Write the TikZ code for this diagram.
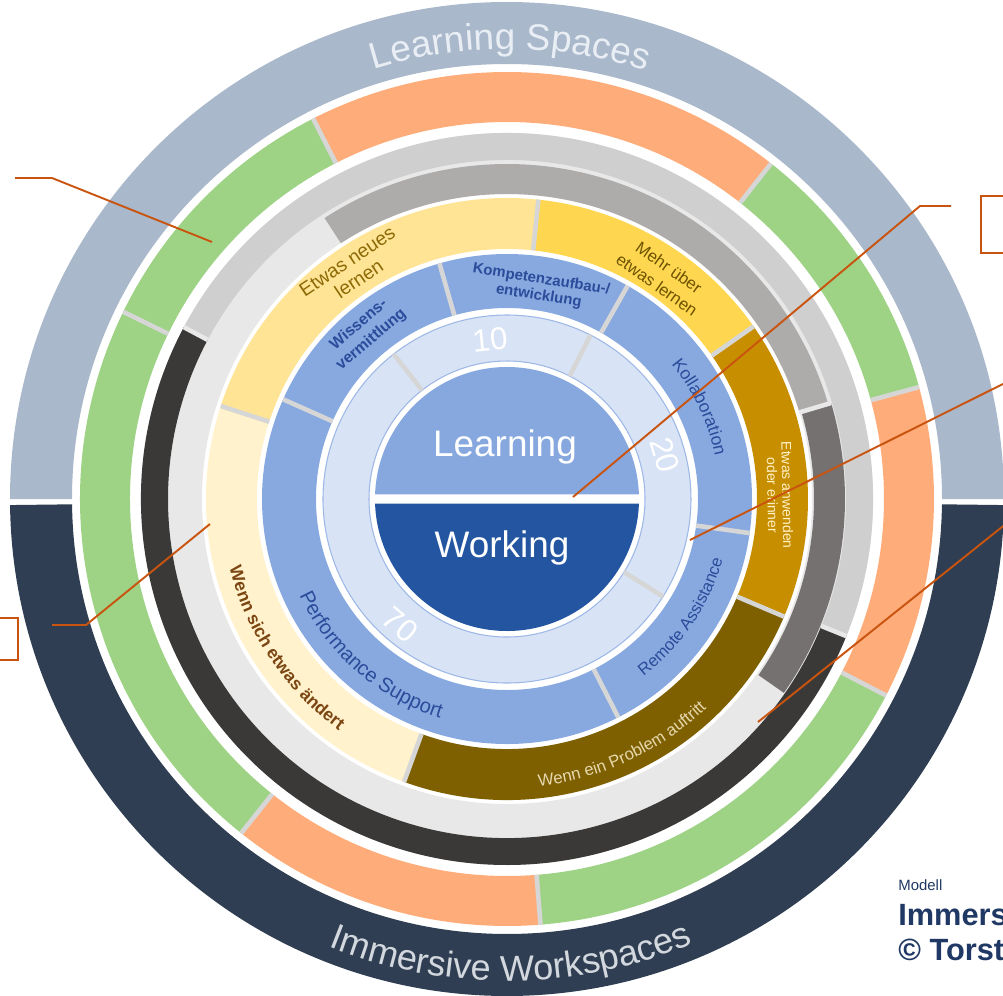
\documentclass[tikz,border=0pt]{standalone}
\usepackage{fontspec}
\setmainfont{Liberation Sans}
\usetikzlibrary{decorations.text}

\definecolor{spacegrey}{HTML}{A9B8CB}
\definecolor{worknavy}{HTML}{2F3E52}
\definecolor{spacetext}{HTML}{E9EEF4}
\definecolor{worktext}{HTML}{D3D8DE}
\definecolor{ringgreen}{HTML}{9ED386}
\definecolor{ringorange}{HTML}{FEAD7A}
\definecolor{greylight}{HTML}{D0CFD0}
\definecolor{greybase}{HTML}{E8E8E8}
\definecolor{greymid}{HTML}{AEABAB}
\definecolor{greydark}{HTML}{767171}
\definecolor{greyblack}{HTML}{3B3938}
\definecolor{yellowlight}{HTML}{FFE496}
\definecolor{yellowmid}{HTML}{FED64F}
\definecolor{goldmid}{HTML}{C78F00}
\definecolor{golddark}{HTML}{7F6000}
\definecolor{yellowpale}{HTML}{FFF2CC}
\definecolor{blueseg}{HTML}{88A9DF}
\definecolor{bluepale}{HTML}{D8E3F5}
\definecolor{blueline}{HTML}{9DB7E6}
\definecolor{learnblue}{HTML}{87A8DF}
\definecolor{workblue}{HTML}{2355A0}
\definecolor{labelblue}{HTML}{2B4B9B}
\definecolor{calloutorange}{HTML}{C9540F}
\definecolor{sepgrey}{HTML}{D6D6D6}
\definecolor{modelblue}{HTML}{1F3864}
\definecolor{newgold}{HTML}{8C6A05}
\definecolor{moregold}{HTML}{6E5300}
\definecolor{applycream}{HTML}{FFF1C6}
\definecolor{changebrown}{HTML}{7B4612}
\definecolor{problemcream}{HTML}{E6D8AE}

% ring segment: [colour]{inner}{outer}{from}{to}
\newcommand{\ringseg}[5][black]{%
  \fill[#1] (#4:#3) arc[start angle=#4, end angle=#5, radius=#3]
    -- (#5:#2) arc[start angle=#5, end angle=#4, radius=#2] -- cycle;}
% text on an arc: {radius}{from}{to}{colour}{font}{text}
\newcommand{\arctext}[6]{%
  \path[decorate, decoration={text along path, text align=center,
    text color=#4, text={|#5|#6}}]
    (#2:#1) arc[start angle=#2, end angle=#3, radius=#1];}

\begin{document}
\begin{tikzpicture}[scale=0.2,
  gapline/.style={draw=sepgrey, line width=2.6pt},
  greygap/.style={draw=greybase, line width=2.6pt},
  paleline/.style={draw=blueline, line width=0.6pt},
  callline/.style={draw=calloutorange, line width=1.1pt},
  callbox/.style={rectangle, draw=calloutorange, line width=1.1pt, inner sep=0},
  ringlabel/.style={align=center, inner sep=0},
  bluelabel/.style={ringlabel, text=labelblue},
  numlabel/.style={inner sep=0, text=white, font=\fontsize{18}{18}\selectfont},
  centerlabel/.style={inner sep=0, text=white, font=\fontsize{21}{21}\selectfont}]
  \useasboundingbox (-50.7,-49.6) rectangle (49.6,49.9);
  \clip (-50.7,-49.6) rectangle (49.6,49.9);

  % outer ring
  \ringseg[spacegrey]{43.5}{49.7}{0}{180}
  \ringseg[worknavy]{43.5}{49.7}{180.7}{359.3}
  \arctext{45}{120}{59.2}{spacetext}{\fontsize{21}{25}\selectfont}{Learning Spaces}
  \arctext{48.2}{235}{306}{worktext}{\fontsize{20.5}{25}\selectfont}{Immersive Workspaces}

  % green / orange ring
  \ringseg[ringgreen]{37.7}{42.7}{15.2}{51.8}
  \ringseg[ringorange]{37.7}{42.7}{51.8}{117}
  \ringseg[ringgreen]{37.7}{42.7}{117}{154}
  \ringseg[ringgreen]{37.7}{42.7}{154}{231.5}
  \ringseg[ringorange]{37.7}{42.7}{231.5}{274.5}
  \ringseg[ringgreen]{37.7}{42.7}{274.5}{332.6}
  \ringseg[ringorange]{37.7}{42.7}{332.6}{375.2}
  \foreach \a in {15.2,51.8,117,154,231.5,274.5,332.6}
    \draw[gapline] (\a:37.7) -- (\a:42.7);

  % grey ring
  \ringseg[greybase]{30.5}{36.6}{0}{360}
  \ringseg[greylight]{33.9}{36.6}{-22}{152}
  \ringseg[greyblack]{33.9}{36.6}{152}{338}
  \ringseg[greymid]{30.5}{33.5}{16.5}{123}
  \ringseg[greydark]{30.7}{33.8}{-35}{16.5}
  \foreach \a in {-22,152}
    \draw[greygap] (\a:33.9) -- (\a:36.6);
  \draw[greygap] (16.5:30.5) -- (16.5:33.8);

  % yellow ring
  \ringseg[yellowmid]{25}{30.1}{35}{84}
  \ringseg[yellowlight]{25}{30.1}{84}{162}
  \ringseg[yellowpale]{25}{30.1}{162}{250}
  \ringseg[golddark]{25}{30.1}{250}{337}
  \ringseg[goldmid]{25}{30.1}{-23}{35}
  \foreach \a in {35,84,162,250,337}
    \draw[gapline] (\a:25) -- (\a:30.1);

  % blue ring
  \ringseg[blueseg]{19.1}{24.5}{0}{360}
  \foreach \a in {-63,-8,60.5,106,156}
    \draw[gapline] (\a:19.1) -- (\a:24.5);

  % pale blue ring
  \ringseg[bluepale, paleline]{13.8}{18.4}{63}{128}
  \ringseg[bluepale, paleline]{13.8}{18.4}{-32}{63}
  \ringseg[bluepale, paleline]{13.8}{18.4}{128}{328}
  \foreach \a in {-32,63,128}
    \draw[gapline] (\a:13.8) -- (\a:18.4);

  % centre
  \fill[learnblue] (2:13.2) arc[start angle=2, end angle=178, radius=13.2] -- cycle;
  \fill[workblue] (182:13.2) arc[start angle=182, end angle=358, radius=13.2] -- cycle;
  \node[centerlabel] (learning) at (-0.2,5.2) {Learning};
  \node[centerlabel] (working) at (-0.5,-4.9) {Working};

  \node[numlabel, rotate=6] (ten) at (96.1:16) {10};
  \node[numlabel, rotate=-74] (twenty) at (15.6:16.4) {20};
  \node[numlabel, rotate=-40] (seventy) at (229.7:16.5) {70};

  % blue labels
  \node[bluelabel, rotate=40.4, font=\fontsize{9}{11}\selectfont\bfseries] (wissen) at (130.4:21.9) {Wissens-\\vermittlung};
  \node[bluelabel, rotate=-8.9, font=\fontsize{8.5}{9.5}\selectfont\bfseries] (kompetenz) at (81.1:21.35) {Kompetenzaufbau-/\\entwicklung};
  \arctext{21.25}{42}{9}{labelblue}{\fontsize{10}{12}\selectfont}{Kollaboration}
  \arctext{22.4}{-58}{-10}{labelblue}{\fontsize{9.5}{12}\selectfont}{Remote Assistance}
  \arctext{22.9}{190}{268}{labelblue}{\fontsize{11.5}{13}\selectfont}{Performance Support}

  % yellow labels
  \node[ringlabel, rotate=33.9, text=newgold, font=\fontsize{11}{12}\selectfont] (neues) at (123.9:27.6) {Etwas neues\\lernen};
  \node[ringlabel, rotate=-35, text=moregold, font=\fontsize{9.5}{12}\selectfont] (mehr) at (55:27.2) {Mehr über\\etwas lernen};
  \node[ringlabel, rotate=-89, text=applycream, font=\fontsize{8}{8.5}\selectfont] (anwenden) at (0.8:27.3) {Etwas anwenden\\oder erinner};
  \arctext{28.6}{190}{238}{changebrown}{\fontsize{10}{12}\selectfont\bfseries}{Wenn sich etwas ändert}
  \arctext{28.9}{272}{318}{problemcream}{\fontsize{9.5}{12}\selectfont}{Wenn ein Problem auftritt}

  % callouts
  \node[callbox, minimum width=1.4cm, minimum height=1.14cm, anchor=north west] (rbox) at (47.3,30.4) {};
  \node[callbox, minimum width=1.2cm, minimum height=0.84cm, anchor=north east] (lbox) at (-48.8,-11.8) {};
  \coordinate (ulA) at (-49.2,32.1);
  \coordinate (ulB) at (-45.5,32.1);
  \coordinate (ulC) at (-29.5,25.7);
  \draw[callline] (ulA) -- (ulB) -- (ulC);
  \coordinate (urA) at (6.6,0.2);
  \coordinate (urB) at (41.3,29.3);
  \coordinate (urC) at (44.4,29.3);
  \draw[callline] (urA) -- (urB) -- (urC);
  \coordinate (rmA) at (18.3,-4.1);
  \coordinate (rmB) at (52,12.7);
  \draw[callline] (rmA) -- (rmB);
  \coordinate (rlA) at (25.1,-22.3);
  \coordinate (rlB) at (52,-0.8);
  \draw[callline] (rlA) -- (rlB);
  \coordinate (llA) at (-45.5,-12.6);
  \coordinate (llB) at (-42.1,-12.6);
  \coordinate (llC) at (-29.7,-2.5);
  \draw[callline] (llA) -- (llB) -- (llC);

  % model note
  \node[anchor=base west, inner sep=0, text=modelblue, font=\fontsize{8.5}{10}\selectfont] (modell) at (39.1,-39.1) {Modell};
  \node[anchor=base west, inner sep=0, text=modelblue, font=\fontsize{17.5}{20}\selectfont\bfseries] (immers) at (39.1,-42.6) {Immers};
  \node[anchor=base west, inner sep=0, text=modelblue, font=\fontsize{17.5}{20}\selectfont\bfseries] (torsten) at (39.1,-46.1) {© Torst};
\end{tikzpicture}
\end{document}
